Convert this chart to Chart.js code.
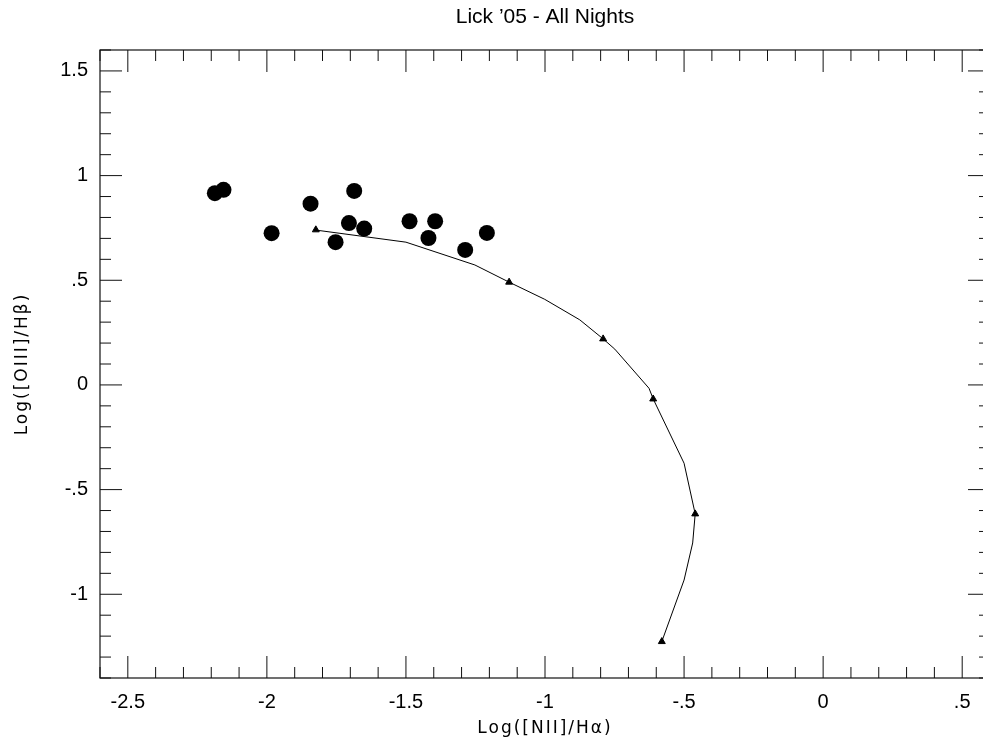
<!DOCTYPE html>
<html><head><meta charset="utf-8">
<script src="https://cdn.jsdelivr.net/npm/chart.js@4/dist/chart.umd.min.js"></script>
<style>
html,body{margin:0;padding:0;background:#fff;overflow:hidden;width:983px;height:748px;}
#wrap{width:983px;height:748px;overflow:hidden;}
</style>
</head><body><div id="wrap"><canvas id="c" width="1000" height="748"></canvas></div>
<script>
const chartTitle = "Lick ’05 - All Nights";
const xAxisTitle = "Log([NII]/Hα)";
const yAxisTitle = "Log([OIII]/Hβ)";

// observed points (filled circles)
const obsX = [-2.187, -2.156, -1.983, -1.843, -1.686, -1.705, -1.650, -1.753, -1.487, -1.395, -1.419, -1.287, -1.209];
const obsY = [0.916, 0.932, 0.725, 0.866, 0.927, 0.773, 0.747, 0.682, 0.782, 0.782, 0.702, 0.645, 0.726];

// model track (line)
const modelX = [-1.831, -1.500, -1.252, -1.129, -1.001, -0.875, -0.791, -0.749, -0.626, -0.611, -0.500, -0.460, -0.469, -0.500, -0.580];
const modelY = [0.741, 0.682, 0.573, 0.491, 0.409, 0.311, 0.220, 0.171, -0.016, -0.067, -0.374, -0.616, -0.755, -0.932, -1.226];

// model markers (triangles)
const markerX = [-1.824, -1.129, -0.791, -0.611, -0.460, -0.580];
const markerY = [0.741, 0.491, 0.220, -0.067, -0.616, -1.226];

const xTickValues = [-2.5, -2, -1.5, -1, -0.5, 0, 0.5];
const xTickLabels = ["-2.5", "-2", "-1.5", "-1", "-.5", "0", ".5"];
const yTickValues = [-1, -0.5, 0, 0.5, 1, 1.5];
const yTickLabels = ["-1", "-.5", "0", ".5", "1", "1.5"];
const xRange = [-2.6, 0.6];
const yRange = [-1.4, 1.6];
const minorStep = 0.1;

function toPts(xs, ys) { return xs.map((v, i) => ({x: v, y: ys[i]})); }

function minorValues(range, majors) {
  const out = [];
  const n = Math.round((range[1] - range[0]) / minorStep);
  for (let i = 0; i <= n; i++) {
    const v = Math.round((range[0] + i * minorStep) * 10) / 10;
    if (!majors.some(m => Math.abs(m - v) < 1e-6)) out.push(v);
  }
  return out;
}

function spacedTitle(scale) {
  if (scale._spaced) return;
  scale._spaced = true;
  const orig = scale.drawTitle;
  scale.drawTitle = function (...args) {
    const ctx = this.ctx;
    const prev = ctx.letterSpacing;
    ctx.letterSpacing = '2px';
    orig.apply(this, args);
    ctx.letterSpacing = prev || '0px';
  };
}

const frameTicks = {
  id: 'frameTicks',
  beforeDatasetsDraw(chart) {
    const {ctx, chartArea: a, scales: {x, y}} = chart;
    ctx.save();
    ctx.strokeStyle = '#111';
    ctx.lineWidth = 1.2;
    ctx.strokeRect(a.left, a.top, a.right - a.left, a.bottom - a.top);
    const majorLen = 22, minorLen = 11;
    ctx.beginPath();
    const xm = minorValues(xRange, xTickValues);
    xTickValues.forEach(v => {
      const p = x.getPixelForValue(v);
      ctx.moveTo(p, a.bottom); ctx.lineTo(p, a.bottom - majorLen);
      ctx.moveTo(p, a.top); ctx.lineTo(p, a.top + majorLen);
    });
    xm.forEach(v => {
      const p = x.getPixelForValue(v);
      ctx.moveTo(p, a.bottom); ctx.lineTo(p, a.bottom - minorLen);
      ctx.moveTo(p, a.top); ctx.lineTo(p, a.top + minorLen);
    });
    const ym = minorValues(yRange, yTickValues);
    yTickValues.forEach(v => {
      const p = y.getPixelForValue(v);
      ctx.moveTo(a.left, p); ctx.lineTo(a.left + majorLen, p);
      ctx.moveTo(a.right, p); ctx.lineTo(a.right - majorLen, p);
    });
    ym.forEach(v => {
      const p = y.getPixelForValue(v);
      ctx.moveTo(a.left, p); ctx.lineTo(a.left + minorLen, p);
      ctx.moveTo(a.right, p); ctx.lineTo(a.right - minorLen, p);
    });
    ctx.lineWidth = 1;
    ctx.stroke();
    ctx.restore();
  }
};

const tickFont = {family: "'Liberation Sans', Arial, sans-serif", size: 20};
const axisTitleFont = {family: "'DejaVu Sans', sans-serif", size: 17, weight: 'normal'};

new Chart(document.getElementById('c'), {
  type: 'scatter',
  data: {
    datasets: [
      {
        label: 'model',
        data: toPts(modelX, modelY),
        showLine: true,
        borderColor: '#000',
        borderWidth: 1,
        pointRadius: 0,
        fill: false,
        tension: 0
      },
      {
        label: 'markers',
        data: toPts(markerX, markerY),
        pointStyle: 'triangle',
        pointRadius: 4,
        backgroundColor: '#000',
        borderColor: '#000',
        borderWidth: 1
      },
      {
        label: 'observed',
        data: toPts(obsX, obsY),
        pointStyle: 'circle',
        pointRadius: 8,
        backgroundColor: '#000',
        borderColor: '#000',
        borderWidth: 0
      }
    ]
  },
  options: {
    responsive: false,
    animation: false,
    devicePixelRatio: 1,
    layout: {padding: {left: 0, right: 10, top: 0, bottom: 0}},
    plugins: {
      legend: {display: false},
      tooltip: {enabled: false},
      title: {
        display: true,
        text: chartTitle,
        fullSize: false,
        color: '#000',
        font: {family: "'Liberation Sans', Arial, sans-serif", size: 21, weight: 'normal'},
        padding: {top: 5, bottom: 19.8}
      }
    },
    scales: {
      x: {
        type: 'linear',
        min: xRange[0],
        max: xRange[1],
        grid: {display: false, drawTicks: false},
        border: {display: false},
        afterBuildTicks(scale) { scale.ticks = xTickValues.map(v => ({value: v})); },
        afterFit(scale) { scale.height = 70; spacedTitle(scale); },
        ticks: {
          color: '#000',
          font: tickFont,
          padding: 12,
          maxRotation: 0,
          autoSkip: false,
          callback: (v, i) => xTickLabels[i]
        },
        title: {display: true, text: xAxisTitle, color: '#000', font: axisTitleFont, padding: {top: 0, bottom: 9}}
      },
      y: {
        type: 'linear',
        min: yRange[0],
        max: yRange[1],
        grid: {display: false, drawTicks: false},
        border: {display: false},
        afterBuildTicks(scale) { scale.ticks = yTickValues.map(v => ({value: v})); },
        afterFit(scale) { scale.width = 100; spacedTitle(scale); },
        ticks: {
          color: '#000',
          font: tickFont,
          padding: 12,
          autoSkip: false,
          callback: (v, i) => yTickLabels[i]
        },
        title: {display: true, text: yAxisTitle, color: '#000', font: axisTitleFont, padding: {top: 12, bottom: 0}}
      }
    }
  },
  plugins: [frameTicks]
});
</script>
</body></html>
